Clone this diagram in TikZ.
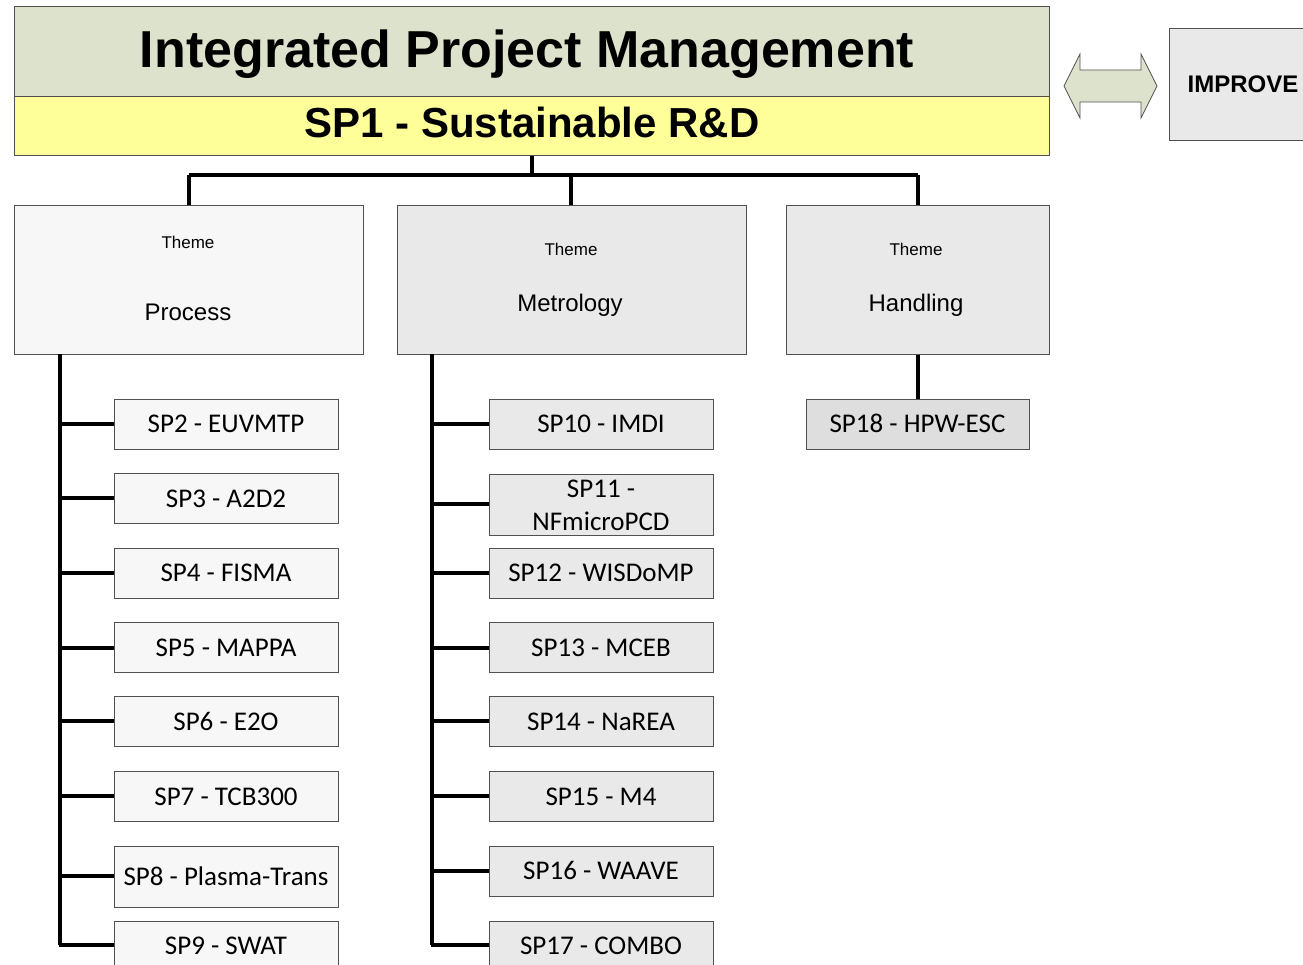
\documentclass[tikz,border=0pt]{standalone}
\usepackage{fontspec}
\setmainfont{Liberation Sans}
\newfontfamily\carl{Carlito}
\definecolor{hdrgreen}{HTML}{DDE2CC}
\definecolor{hdryellow}{HTML}{FFFF99}
\definecolor{lightbox}{HTML}{F7F7F7}
\definecolor{greybox}{HTML}{E9E9E9}
\definecolor{darkbox}{HTML}{DEDEDE}
\definecolor{edge}{HTML}{505050}
\begin{document}
\begin{tikzpicture}[x=1pt,y=-1pt,
  box/.style={draw=edge,line width=1pt,rectangle,inner sep=0pt,anchor=center},
  theme/.style={box,minimum width=349pt,minimum height=148pt},
  sp/.style={box,minimum width=224pt,minimum height=50pt,font=\carl\fontsize{27}{26}\selectfont,text height=17pt,text depth=0pt},
  conn/.style={line width=3.5pt,black},
  lbl/.style={inner sep=0pt,anchor=base},
  small/.style={lbl,font=\fontsize{17}{20}\selectfont},
  mid/.style={lbl,font=\fontsize{24}{28}\selectfont}]
\useasboundingbox (0,0) rectangle (1303,965);
\clip (0,0) rectangle (1303,965);
\fill[white] (0,0) rectangle (1303,965);
% header
\node[box,fill=hdrgreen,minimum width=1035pt,minimum height=90pt] (hdr) at (531.5,52) {};
\node[lbl,font=\bfseries\fontsize{52}{60}\selectfont] (hdrt) at (527,68) {Integrated Project Management};
\node[box,fill=hdryellow,minimum width=1035pt,minimum height=59pt] (sp1) at (531.5,126.5) {};
\node[lbl,font=\bfseries\fontsize{42}{48}\selectfont] (sp1t) at (532,138) {SP1 - Sustainable R\&D};
% double arrow
\filldraw[fill=hdrgreen,draw=edge,line width=0.8pt]
  (1064,86) -- (1080,54) -- (1080,70) -- (1141,70) -- (1141,54) -- (1157,86)
  -- (1141,118) -- (1141,102) -- (1080,102) -- (1080,118) -- cycle;
\node[box,fill=greybox,minimum width=160pt,minimum height=112pt] (imp) at (1249,85) {};
\node[lbl,font=\bfseries\fontsize{24}{28}\selectfont] at (1243,93) {IMPROVE};
% themes
\node[theme,fill=lightbox] (proc) at (188.5,280) {};
\node[small] at (188,249) {Theme};
\node[mid] at (188,320) {Process};
\node[theme,fill=greybox] (metr) at (571.5,280) {};
\node[small] at (571,256) {Theme};
\node[mid] at (570,312) {Metrology};
\node[theme,fill=greybox,minimum width=263pt] (hand) at (917.5,280) {};
\node[small] at (916,256) {Theme};
\node[mid] at (916,312) {Handling};
% top connectors
\coordinate (jn) at (532,175);
\draw[conn] (sp1.south -| jn) -- (jn);
\draw[conn] (189,175) -- (918,175);
\draw[conn] (189,175) -- (proc.north -| 189,0);
\draw[conn] (571,175) -- (metr.north -| 571,0);
\draw[conn] (918,175) -- (hand.north -| 918,0);
% process column
\node[sp,fill=lightbox] (sp2) at (226,424) {SP2 - EUVMTP};
\node[sp,fill=lightbox] (sp3) at (226,498.5) {SP3 - A2D2};
\node[sp,fill=lightbox] (sp4) at (226,573) {SP4 - FISMA};
\node[sp,fill=lightbox] (sp5) at (226,647.5) {SP5 - MAPPA};
\node[sp,fill=lightbox] (sp6) at (226,721.5) {SP6 - E2O};
\node[sp,fill=lightbox] (sp7) at (226,796.5) {SP7 - TCB300};
\node[sp,fill=lightbox,minimum height=61pt] (sp8) at (226,876.5) {SP8 - Plasma-Trans};
\node[sp,fill=lightbox] (sp9) at (226,946) {SP9 - SWAT};
\coordinate (pt) at (60,354);
\coordinate (pb) at (60,945);
\draw[conn] (pt) -- (pb);
\foreach \n/\y in {sp2/424,sp3/498,sp4/573,sp5/648,sp6/721,sp7/796,sp8/876,sp9/945}
  \draw[conn] (58.5,\y) -- (\n.west |- 0,\y);
% metrology column
\node[sp,fill=greybox] (sp10) at (601,424) {SP10 - IMDI};
\node[box,fill=greybox,minimum width=224pt,minimum height=61pt] (sp11) at (601,504.5) {};
\node[lbl,font=\carl\fontsize{27}{26}\selectfont] (sp11a) at (601,497) {SP11 -};
\node[lbl,font=\carl\fontsize{27}{26}\selectfont] (sp11b) at (601,530) {NFmicroPCD};
\node[sp,fill=greybox] (sp12) at (601,573) {SP12 - WISDoMP};
\node[sp,fill=greybox] (sp13) at (601,647.5) {SP13 - MCEB};
\node[sp,fill=greybox] (sp14) at (601,721.5) {SP14 - NaREA};
\node[sp,fill=greybox] (sp15) at (601,796.5) {SP15 - M4};
\node[sp,fill=greybox] (sp16) at (601,871) {SP16 - WAAVE};
\node[sp,fill=greybox] (sp17) at (601,946) {SP17 - COMBO};
\coordinate (mt) at (432,354);
\coordinate (mb) at (432,945);
\draw[conn] (mt) -- (mb);
\foreach \n/\y in {sp10/424,sp11/504,sp12/573,sp13/648,sp14/721,sp15/796,sp16/871,sp17/945}
  \draw[conn] (430.5,\y) -- (\n.west |- 0,\y);
% handling
\node[sp,fill=darkbox,minimum width=223pt] (sp18) at (917.5,424) {SP18 - HPW-ESC};
\draw[conn] (hand.south -| 918,0) -- (sp18.north -| 918,0);
\end{tikzpicture}
\end{document}
